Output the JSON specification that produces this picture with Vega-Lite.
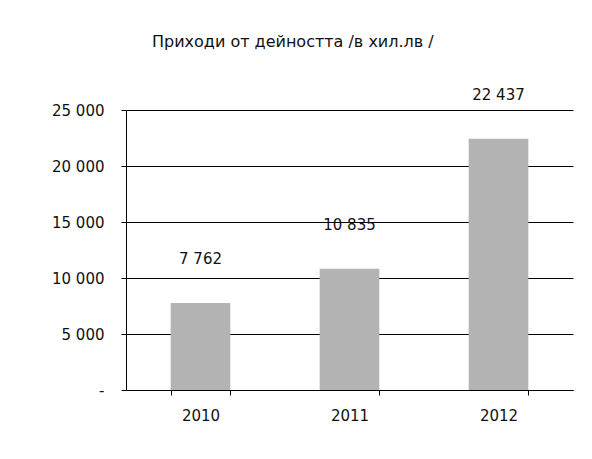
{
  "$schema": "https://vega.github.io/schema/vega-lite/v6.json",
  "autosize": "none",
  "width": 447,
  "height": 280,
  "padding": {"left": 126, "top": 110, "right": 19, "bottom": 69},
  "background": "white",
  "title": {
    "text": "Приходи  от дейността /в хил.лв /",
    "anchor": "start",
    "frame": "group",
    "dx": 26,
    "offset": 38,
    "font": "DejaVu Sans",
    "fontSize": 16,
    "fontWeight": "normal",
    "color": "#111"
  },
  "data": {
    "values": [
      {"year": "2010", "value": 7762},
      {"year": "2011", "value": 10835},
      {"year": "2012", "value": 22437}
    ]
  },
  "encoding": {
    "x": {
      "field": "year",
      "type": "nominal",
      "scale": {"paddingInner": 0.6, "paddingOuter": 0.3},
      "axis": {
        "title": null,
        "labelAngle": 0,
        "tickBand": "extent",
        "tickSize": 5,
        "labelPadding": 13,
        "labelFontSize": 15,
        "labelFont": "DejaVu Sans",
        "labelColor": "#111",
        "domainColor": "#000",
        "tickColor": "#000"
      }
    },
    "y": {
      "field": "value",
      "type": "quantitative",
      "scale": {"domain": [0, 25000], "nice": false},
      "axis": {
        "title": null,
        "values": [0, 5000, 10000, 15000, 20000, 25000],
        "labelExpr": "datum.value == 0 ? '-' : replace(format(datum.value, ',d'), ',', ' ')",
        "tickSize": 5,
        "labelPadding": 17,
        "labelFontSize": 15,
        "labelFont": "DejaVu Sans",
        "labelColor": "#111",
        "grid": true,
        "gridColor": "#000",
        "gridWidth": 1,
        "gridOpacity": 1,
        "domainColor": "#000",
        "tickColor": "#000"
      }
    }
  },
  "layer": [
    {"mark": {"type": "bar", "color": "#b3b3b3"}},
    {
      "mark": {"type": "text", "dy": -44, "font": "DejaVu Sans", "fontSize": 15, "color": "#111"},
      "encoding": {
        "text": {"field": "value", "type": "quantitative", "format": ",d"}
      }
    }
  ],
  "config": {
    "view": {"stroke": null},
    "locale": {"number": {"decimal": ",", "thousands": " ", "grouping": [3], "currency": ["", " лв"]}}
  }
}
